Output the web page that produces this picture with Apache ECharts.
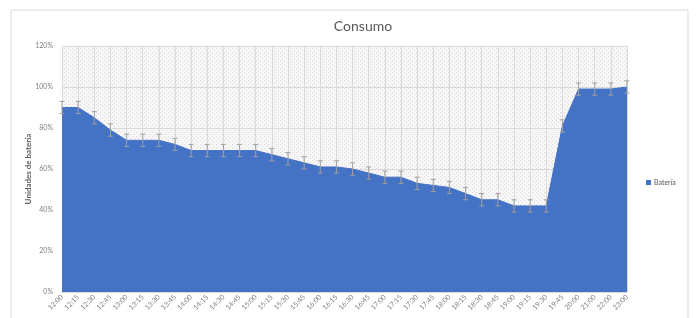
<!DOCTYPE html>
<html>
<head>
<meta charset="utf-8">
<script src="https://cdn.jsdelivr.net/npm/echarts@6/dist/echarts.min.js"></script>
<style>
  html, body { margin: 0; padding: 0; background: #fff; }
  #main { width: 697px; height: 318px; }
</style>
</head>
<body>
<div id="main"></div>
<script>
// tick labels (x axis)
const horas = [
  "12:00", "12:15", "12:30", "12:45", "13:00", "13:15", "13:30", "13:45",
  "14:00", "14:15", "14:30", "14:45", "15:00", "15:15", "15:30", "15:45",
  "16:00", "16:15", "16:30", "16:45", "17:00", "17:15", "17:30", "17:45",
  "18:00", "18:15", "18:30", "18:45", "19:00", "19:15", "19:30", "19:45",
  "20:00", "21:00", "22:00", "23:00",
];
// battery level, percent
const bateria = [
  90, 90, 85, 79, 74, 74, 74, 72, 69, 69, 69, 69, 69, 67, 65, 63,
  61, 61, 60, 58, 56, 56, 53, 52, 51, 48, 45, 45, 42, 42, 42, 81,
  99, 99, 99, 100,
];
// error bar (+/-), percent
const errores = [
  3, 3, 3, 3, 3, 3, 3, 3, 3, 3, 3, 3, 3, 3, 3, 3,
  3, 3, 3, 3, 3, 3, 3, 3, 3, 3, 3, 3, 3, 3, 3, 3,
  3, 3, 3, 3,
];

const FONT = "Lato";

// dotted background for the plot area
function dotPattern() {
  const c = document.createElement("canvas");
  c.width = 4;
  c.height = 4;
  const ctx = c.getContext("2d");
  ctx.fillStyle = "#f7f7f7";
  ctx.fillRect(0, 0, 4, 4);
  ctx.fillStyle = "#d9d9d9";
  ctx.fillRect(0, 0, 1, 1);
  ctx.fillRect(2, 2, 1, 1);
  return c;
}

const errData = bateria.map((v, i) => [i, v - errores[i], v + errores[i]]);

var chartDom = document.getElementById("main");
var myChart = echarts.init(chartDom, null, { renderer: "canvas" });
var option;

option = {
  animation: false,
  backgroundColor: "#fff",
  title: {
    text: "Consumo",
    left: 358,
    top: 14,
    textAlign: "center",
    textStyle: {
      fontFamily: FONT,
      fontSize: 14,
      fontWeight: "normal",
      color: "#595959",
    },
  },
  graphic: [
    {
      type: "rect",
      shape: { x: 11, y: 10, width: 677, height: 320 },
      style: { fill: "none", stroke: "#d9d9d9", lineWidth: 1 },
      silent: true,
    },
  ],
  legend: {
    data: ["Batería"],
    left: 641,
    top: 174,
    itemWidth: 5,
    itemHeight: 5,
    itemGap: 4,
    icon: "rect",
    textStyle: { fontFamily: FONT, fontSize: 7, color: "#595959", padding: [0, 0, 0, -2] },
  },
  grid: {
    left: 62,
    right: 70,
    top: 46,
    bottom: 26,
    show: true,
    borderWidth: 0,
    backgroundColor: { image: dotPattern(), repeat: "repeat" },
  },
  xAxis: {
    type: "category",
    data: horas,
    boundaryGap: false,
    axisLine: { lineStyle: { color: "#d9d9d9" } },
    axisTick: { show: false },
    axisLabel: {
      rotate: 45,
      interval: 0,
      margin: 4,
      fontFamily: FONT,
      fontSize: 7,
      color: "#7f7f7f",
    },
    splitLine: { show: true, lineStyle: { color: "#d9d9d9", width: 1 } },
  },
  yAxis: {
    type: "value",
    min: 0,
    max: 120,
    interval: 20,
    name: "Unidades de batería",
    nameLocation: "middle",
    nameGap: 30,
    nameMoveOverlap: false,
    nameTextStyle: { fontFamily: FONT, fontSize: 8, color: "#595959", fontWeight: "bold" },
    axisLine: { show: false },
    axisTick: { show: false },
    axisLabel: {
      formatter: "{value}%",
      fontFamily: FONT,
      fontSize: 7,
      color: "#7f7f7f",
      margin: 9,
    },
    splitLine: { lineStyle: { color: "#d9d9d9", width: 1 } },
  },
  series: [
    {
      name: "Batería",
      type: "line",
      data: bateria,
      symbol: "none",
      itemStyle: { color: "#4472c4" },
      lineStyle: { color: "#4472c4", width: 1 },
      areaStyle: { color: "#4472c4", opacity: 1 },
      z: 2,
    },
    {
      name: "error",
      type: "custom",
      data: errData,
      z: 3,
      silent: true,
      renderItem: function (params, api) {
        const x = api.value(0);
        const lo = api.coord([x, api.value(1)]);
        const hi = api.coord([x, api.value(2)]);
        const half = 2.5;
        const style = { stroke: "#a0a0a0", lineWidth: 1 };
        return {
          type: "group",
          children: [
            { type: "line", shape: { x1: lo[0], y1: lo[1], x2: hi[0], y2: hi[1] }, style: style },
            { type: "line", shape: { x1: hi[0] - half, y1: hi[1], x2: hi[0] + half, y2: hi[1] }, style: style },
            { type: "line", shape: { x1: lo[0] - half, y1: lo[1], x2: lo[0] + half, y2: lo[1] }, style: style },
          ],
        };
      },
    },
  ],
};

option && myChart.setOption(option);
</script>
</body>
</html>
